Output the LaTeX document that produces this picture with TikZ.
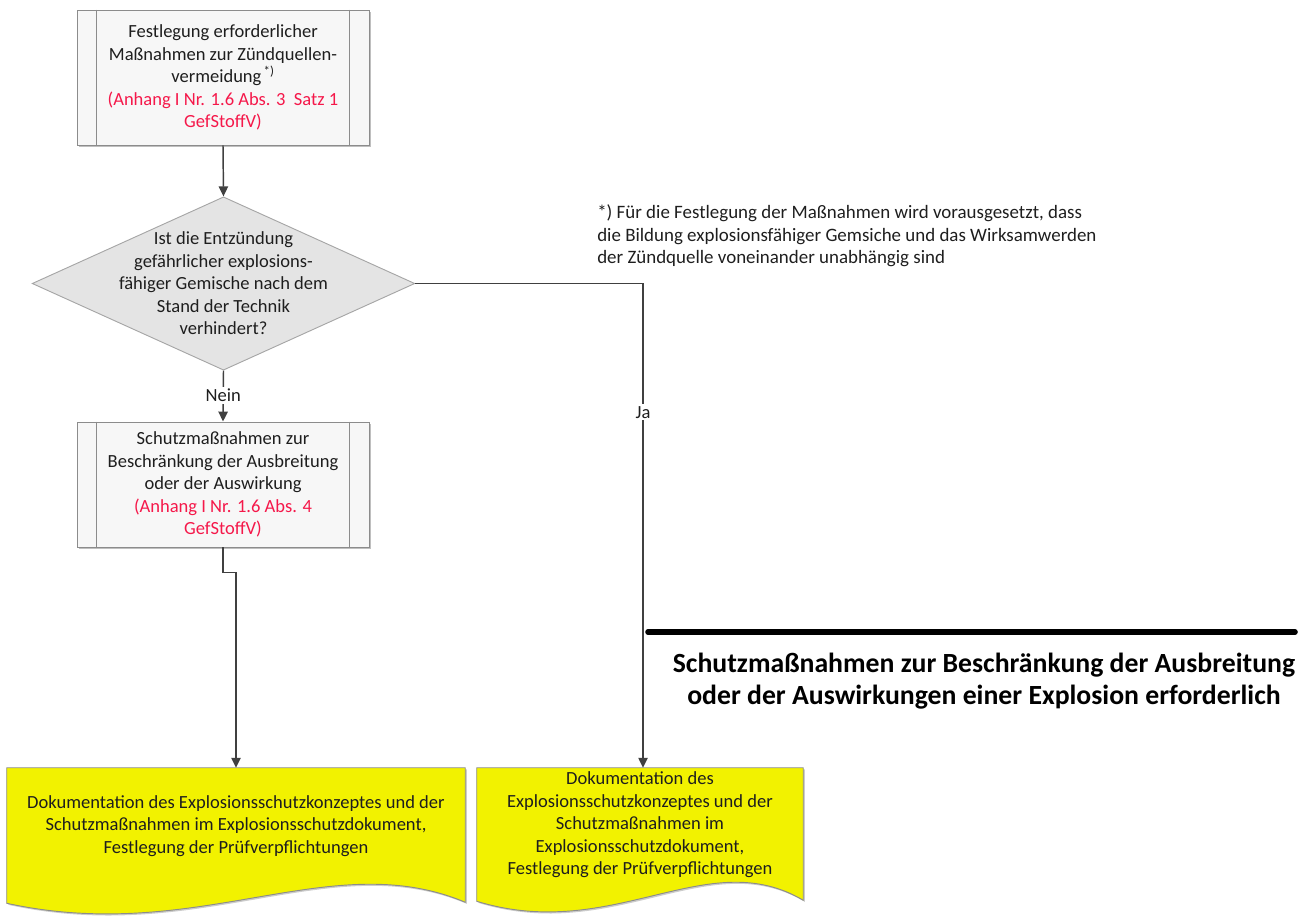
\documentclass[tikz,border=0pt]{standalone}
\usepackage{fontspec}
\setmainfont{Carlito}
\usetikzlibrary{arrows.meta,shapes.geometric,calc,backgrounds,shadows}
\definecolor{boxgray}{HTML}{8C8C8C}
\definecolor{boxfill}{HTML}{F7F7F7}
\definecolor{diafill}{HTML}{E4E4E4}
\definecolor{diagray}{HTML}{A6A6A6}
\definecolor{docfill}{HTML}{F2F200}
\definecolor{docgray}{HTML}{8C8C8C}
\definecolor{redtext}{HTML}{F5184A}
\definecolor{conncol}{HTML}{404040}
\definecolor{txt}{HTML}{1E1E1E}
\begin{document}
\begin{tikzpicture}[x=0.75pt,y=-0.75pt,
  font=\fontsize{13.9pt}{16.9pt}\selectfont, text=txt,
  boxline/.style={draw=boxgray, line width=0.7pt},
  procbox/.style={rectangle, draw=boxgray, fill=boxfill, line width=0.7pt,
    minimum width=219pt, inner sep=0pt, align=center,
    drop shadow={shadow xshift=1.2pt, shadow yshift=-1.2pt, opacity=0.25, fill=black},
    append after command={([xshift=15pt]\tikzlastnode.north west) edge[boxline] ([xshift=15pt]\tikzlastnode.south west)
      ([xshift=-15pt]\tikzlastnode.north east) edge[boxline] ([xshift=-15pt]\tikzlastnode.south east)}},
  decision/.style={diamond, draw=diagray, fill=diafill, line width=0.7pt,
    minimum width=287pt, minimum height=130pt, inner sep=0pt},
  dectext/.style={align=center, inner sep=0pt},
  docnode/.style={rectangle, inner sep=0pt, align=center},
  docshape/.style={draw=docgray, fill=docfill, line width=0.7pt},
  conn/.style={draw=conncol, line width=1.1pt, -{Triangle[length=7.5pt,width=7pt]}},
  lbl/.style={fill=white, inner sep=1.5pt, text=txt},
]
\useasboundingbox (0,0) rectangle (1312,915);

% process boxes
\node[procbox, minimum height=101.25pt] (box1) at (223,77.5)
  {Festlegung erforderlicher\\Maßnahmen zur Zündquellen-\\vermeidung\textsuperscript{\,*)}\\
   \textcolor{redtext}{(Anhang I Nr. 1.6 Abs. 3\ \ Satz 1}\\\textcolor{redtext}{GefStoffV)}};

\node[decision] (dia) at (223.5,283.5) {};
\node[dectext] (diatext) at (dia.center)
  {Ist die Entzündung\\gefährlicher explosions-\\fähiger Gemische nach dem\\Stand der Technik\\verhindert?};

\node[procbox, minimum height=93.75pt] (box2) at (223,484.5)
  {Schutzmaßnahmen zur\\Beschränkung der Ausbreitung\\oder der Auswirkung\\
   \textcolor{redtext}{(Anhang I Nr. 1.6 Abs. 4}\\\textcolor{redtext}{GefStoffV)}};

% documents
\node[docnode, minimum width=343.5pt, minimum height=87pt] (doc1) at (236,826)
  {Dokumentation des Explosionsschutzkonzeptes und der\\Schutzmaßnahmen im Explosionsschutzdokument,\\Festlegung der Prüfverpflichtungen};
\node[docnode, minimum width=244.5pt, minimum height=85.5pt] (doc2) at (640,825)
  {Dokumentation des\\Explosionsschutzkonzeptes und der\\Schutzmaßnahmen im\\Explosionsschutzdokument,\\Festlegung der Prüfverpflichtungen};

\begin{scope}[on background layer]
  \foreach \d in {doc1,doc2}{
    \path[docshape, drop shadow={shadow xshift=1.2pt, shadow yshift=-1.2pt, opacity=0.2, fill=black}]
      (\d.north west) -- (\d.north east) -- ($(\d.south east)+(0,18)$)
      .. controls ($(\d.south west)!0.705!(\d.south east)+(0,-39)$)
         and ($(\d.south west)!0.42!(\d.south east)+(0,61)$) ..
      ($(\d.south west)+(0,19)$) -- cycle;
  }
\end{scope}

% connectors
\draw[conn] (box1.south) -- (dia.north);
\draw[conn] (dia.south) -- node[lbl, pos=0.48] {Nein} (box2.north);
\coordinate (jaturn) at (643,283.5);
\draw[conn] (dia.east) -- (jaturn) -- node[lbl, pos=0.266] {Ja} (jaturn |- doc2.north);
\draw[conn] (box2.south) -- ++(0,25) -| (doc1.north);

% footnote
\node[anchor=west, align=left, inner sep=0pt, font=\fontsize{14.2pt}{17pt}\selectfont] (foot) at (597,236)
  {*) Für die Festlegung der Maßnahmen wird vorausgesetzt, dass\\die Bildung explosionsfähiger Gemsiche und das Wirksamwerden\\der Zündquelle voneinander unabhängig sind};

% heading with bar
\coordinate (barL) at (648,632);
\coordinate (barR) at (1295,632);
\draw[line width=4.2pt, line cap=round, black] (barL) -- (barR);
\node[align=center, inner sep=0pt, font=\bfseries\fontsize{20.8pt}{24pt}\selectfont, text=black] (head) at (984,681)
  {Schutzmaßnahmen zur Beschränkung der Ausbreitung\\oder der Auswirkungen einer Explosion erforderlich};
\end{tikzpicture}
\end{document}
